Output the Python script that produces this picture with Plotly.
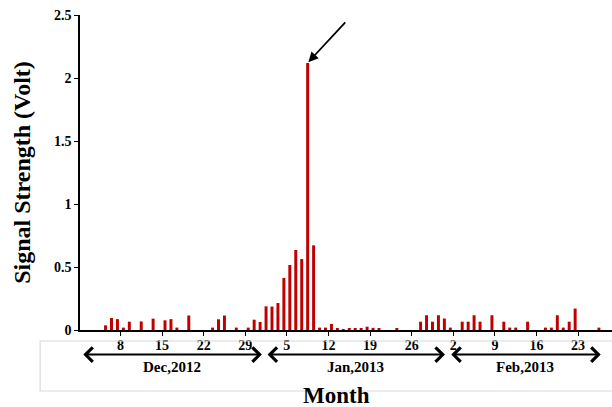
import plotly.graph_objects as go

# Daily signal strength, 1 Dec 2012 .. 28 Feb 2013 (index 0 = 1 Dec)
day_index = list(range(90))
signal_volt = [
    0, 0, 0, 0, 0.037, 0.095, 0.086, 0.019, 0.066, 0,            # Dec 1-10
    0.068, 0, 0.090, 0, 0.077, 0.086, 0.019, 0, 0.115, 0,        # Dec 11-20
    0, 0, 0.019, 0.085, 0.115, 0, 0.019, 0, 0.019, 0.082,        # Dec 21-30
    0.064, 0.188, 0.186, 0.214, 0.413, 0.516, 0.635, 0.563, 2.12, 0.672,  # Dec 31 - Jan 9
    0.019, 0.019, 0.048, 0.013, 0.006, 0.015, 0.015, 0.015, 0.026, 0.017,  # Jan 10-19
    0.016, 0, 0, 0.016, 0, 0, 0, 0.066, 0.117, 0.066,            # Jan 20-29
    0.117, 0.091, 0.019, 0, 0.066, 0.066, 0.117, 0.066, 0, 0.117,  # Jan 30 - Feb 8
    0, 0.066, 0.019, 0.019, 0, 0.066, 0, 0, 0.019, 0.019,        # Feb 9-18
    0.117, 0.019, 0.066, 0.170, 0, 0, 0, 0.019, 0, 0,            # Feb 19-28
]

# Weekly tick labels (placed at the left edge of the labelled day)
tick_days = [7, 14, 21, 28, 35, 42, 49, 56, 63, 70, 77, 84]
tick_labels = ["8", "15", "22", "29", "5", "12", "19", "26", "2", "9", "16", "23"]

# Month spans drawn as double-headed arrows under the axis
month_names = ["Dec,2012", "Jan,2013", "Feb,2013"]
month_start = [0.0, 31.0, 61.9]
month_end = [30.3, 61.1, 87.3]

y_ticks = [0, 0.5, 1, 1.5, 2, 2.5]
y_tick_labels = ["0", "0.5", "1", "1.5", "2", "2.5"]

peak_day = 38

SERIF = "Liberation Serif, Times New Roman, serif"
BAR_RED = "#C00000"

fig = go.Figure()
fig.add_trace(go.Bar(
    x=day_index,
    y=signal_volt,
    marker=dict(color=BAR_RED, line=dict(width=0)),
    width=0.5,
    showlegend=False,
))

fig.update_layout(
    width=612,
    height=407,
    margin=dict(l=80, r=0, t=15, b=77),
    paper_bgcolor="white",
    plot_bgcolor="white",
    bargap=0.5,
    xaxis=dict(
        range=[-0.3, 89.2],
        showline=True, linecolor="black", linewidth=1.5,
        ticks="outside", ticklen=4, tickcolor="black", tickwidth=1,
        tickvals=[d - 0.5 for d in tick_days],
        ticktext=tick_labels,
        ticklabelstandoff=-3,
        tickfont=dict(family=SERIF, size=14, color="black", weight="bold"),
        showgrid=False, zeroline=False,
    ),
    yaxis=dict(
        range=[0, 2.5],
        showline=True, linecolor="black", linewidth=1.5,
        ticks="outside", ticklen=4, tickcolor="black", tickwidth=1,
        tickvals=y_ticks, ticktext=y_tick_labels,
        tickfont=dict(family=SERIF, size=14, color="black", weight="bold"),
        showgrid=False, zeroline=False,
        title=dict(text="Signal Strength (Volt)",
                   font=dict(family=SERIF, size=24, color="black", weight="bold"),
                   standoff=17),
    ),
)

# Light frame around the date labels
fig.add_shape(type="rect", xref="paper", yref="paper",
              x0=-0.075, x1=1.05, y0=-0.1937, y1=-0.0349,
              line=dict(color="#D9D9D9", width=1.2), fillcolor="rgba(0,0,0,0)")

# Month arrows and names
for name, a, b in zip(month_names, month_start, month_end):
    fig.add_annotation(x=b, y=-0.078, xref="x", yref="paper",
                       ax=a, ay=0, axref="x", ayref="pixel",
                       showarrow=True, arrowhead=4, arrowside="end+start",
                       arrowsize=1.4, arrowwidth=2, arrowcolor="black", text="")
    fig.add_annotation(x=(a + b) / 2, y=-0.116, xref="x", yref="paper",
                       yanchor="middle", text=name, showarrow=False,
                       font=dict(family=SERIF, size=15, color="black", weight="bold"))

# X-axis title
fig.add_annotation(x=0.483, y=-0.2095, xref="paper", yref="paper",
                   yanchor="middle", text="Month", showarrow=False,
                   font=dict(family=SERIF, size=23, color="black", weight="bold"))

# Arrow pointing at the peak
fig.add_annotation(x=peak_day, y=signal_volt[peak_day], xref="x", yref="y",
                   ax=39, ay=-42, text="", showarrow=True,
                   arrowhead=2, arrowsize=1.1, arrowwidth=1.8, arrowcolor="black",
                   standoff=1)

fig.write_html("out.html")
